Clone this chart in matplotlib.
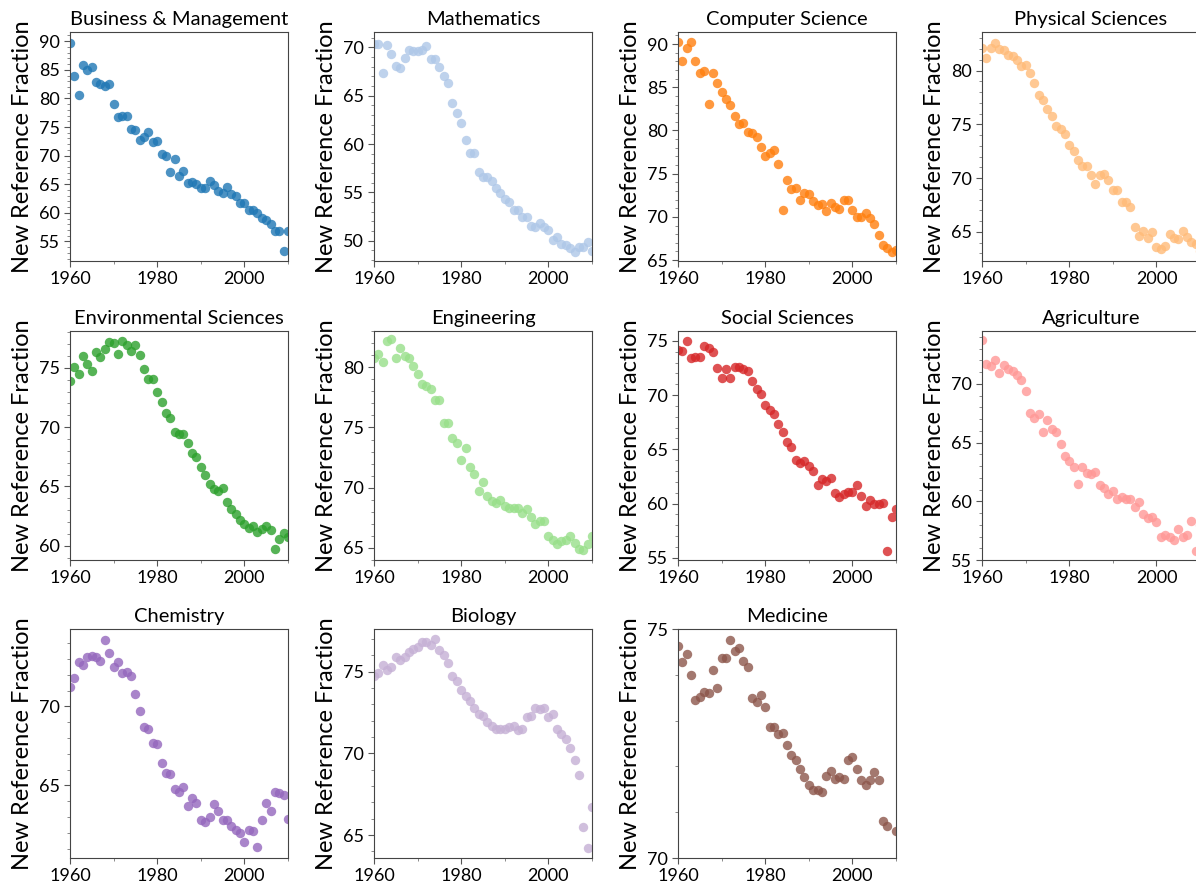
import numpy as np
import matplotlib
matplotlib.use("Agg")
import matplotlib.pyplot as plt
from matplotlib.ticker import MultipleLocator

plt.rcParams['font.family'] = ['Lato', 'DejaVu Sans']

years = list(range(1960, 2011))

fields = ['Business & Management', 'Mathematics', 'Computer Science', 'Physical Sciences',
          'Environmental Sciences', 'Engineering', 'Social Sciences', 'Agriculture',
          'Chemistry', 'Biology', 'Medicine']

colors = ['#1f77b4', '#aec7e8', '#ff7f0e', '#ffbb78', '#2ca02c', '#98df8a',
          '#d62728', '#ff9896', '#9467bd', '#c5b0d5', '#8c564b']

business = [89.6, 84.0, 80.6, 85.9, 85.0, 85.4, 82.9, 82.6, 82.1, 82.5,
            79.1, 76.8, 77.0, 76.9, 74.7, 74.4, 72.7, 73.2, 74.1, 72.4,
            72.6, 70.2, 70.0, 67.2, 69.4, 66.4, 67.3, 65.3, 65.4, 65.1,
            64.3, 64.4, 65.6, 64.8, 63.9, 63.5, 64.6, 63.3, 63.0, 61.8,
            61.8, 60.5, 60.5, 60.0, 59.1, 58.8, 58.1, 56.9, 56.9, 53.4,
            56.9]
mathematics = [70.4, 70.4, 67.4, 70.3, 69.3, 68.1, 67.9, 68.9, 69.7, 69.6,
               69.6, 69.7, 70.2, 68.8, 68.8, 68.0, 67.0, 66.3, 64.2, 63.2,
               62.2, 60.4, 59.1, 59.1, 57.1, 56.6, 56.6, 56.2, 55.5, 54.9,
               54.3, 54.0, 53.2, 53.2, 52.4, 52.5, 51.5, 51.4, 51.8, 51.4,
               51.1, 50.1, 50.4, 49.7, 49.5, 49.2, 48.8, 49.3, 49.3, 49.9,
               48.9]
computer_science = [90.2, 88.0, 89.5, 90.2, 88.0, 86.7, 86.9, 83.1, 86.7, 85.5,
                    84.5, 83.7, 83.0, 81.7, 80.7, 80.9, 79.8, 79.7, 79.2, 78.1,
                    77.0, 77.4, 77.7, 76.1, 70.8, 74.3, 73.2, 73.3, 72.0, 72.8,
                    72.6, 71.8, 71.4, 71.5, 70.7, 71.6, 71.2, 70.9, 72.0, 71.9,
                    70.8, 70.0, 70.0, 70.5, 69.9, 69.2, 67.9, 66.8, 66.4, 65.9,
                    66.2]
physical = [82.1, 81.2, 82.1, 82.6, 82.0, 81.9, 81.5, 81.4, 81.0, 80.4,
            80.5, 79.8, 78.9, 77.7, 77.3, 76.4, 75.8, 74.9, 74.6, 74.1,
            73.1, 72.5, 71.7, 71.1, 71.1, 70.3, 69.5, 70.3, 70.4, 69.8,
            68.9, 68.9, 67.8, 67.8, 67.3, 65.5, 64.6, 65.1, 64.4, 65.0,
            63.6, 63.4, 63.7, 64.8, 64.4, 64.3, 65.1, 64.5, 64.1, 63.9,
            63.2]
environmental = [73.9, 75.1, 74.5, 76.0, 75.3, 74.7, 76.3, 75.9, 76.6, 77.2,
                 77.1, 76.2, 77.3, 76.9, 76.4, 76.9, 76.1, 74.9, 74.1, 74.1,
                 73.0, 72.1, 71.2, 70.8, 69.6, 69.4, 69.4, 68.7, 67.8, 67.5,
                 66.6, 66.0, 65.2, 64.8, 64.6, 64.9, 63.7, 63.1, 62.7, 62.2,
                 61.8, 61.5, 61.7, 61.2, 61.4, 61.7, 61.3, 59.7, 60.6, 61.1,
                 60.7]
engineering = [80.8, 81.1, 80.4, 82.2, 82.3, 80.8, 81.6, 80.9, 80.8, 80.1,
               79.4, 78.6, 78.4, 78.2, 77.3, 77.3, 75.4, 75.4, 74.1, 73.7,
               72.3, 73.3, 71.7, 71.1, 69.7, 70.5, 69.3, 68.9, 68.7, 69.0,
               68.5, 68.3, 68.3, 68.3, 67.9, 68.2, 67.6, 67.0, 67.2, 67.2,
               66.0, 65.7, 65.3, 65.6, 65.7, 66.0, 65.4, 64.9, 64.8, 65.3,
               66.0]
social = [74.2, 74.1, 75.0, 73.4, 73.5, 73.5, 74.5, 74.3, 74.0, 72.5,
          71.6, 72.4, 71.6, 72.6, 72.6, 72.4, 72.2, 71.3, 70.6, 70.1,
          69.1, 68.6, 68.3, 67.3, 66.6, 65.7, 65.2, 64.0, 63.7, 63.9,
          63.5, 63.0, 61.7, 62.3, 62.1, 62.4, 61.0, 60.6, 60.9, 61.1,
          61.1, 61.7, 60.7, 59.8, 60.3, 60.0, 60.0, 60.1, 55.6, 58.8,
          59.5]
agriculture = [73.7, 71.7, 71.5, 72.0, 70.9, 71.6, 71.3, 71.1, 70.8, 70.3,
               69.4, 67.5, 67.1, 67.4, 65.9, 66.9, 66.2, 65.9, 64.9, 63.9,
               63.4, 62.9, 61.5, 62.9, 62.4, 62.3, 62.5, 61.4, 61.1, 60.6,
               60.9, 60.2, 60.4, 60.2, 60.2, 59.5, 59.9, 58.9, 58.6, 58.7,
               58.2, 57.0, 57.1, 57.0, 56.7, 57.6, 57.0, 57.1, 58.3, 55.8,
               58.0]
chemistry = [71.2, 71.8, 72.8, 72.6, 73.1, 73.2, 73.1, 72.9, 74.2, 73.4,
             72.5, 72.8, 72.1, 72.2, 71.9, 70.8, 69.7, 68.7, 68.6, 67.7,
             67.6, 66.4, 65.8, 65.7, 64.8, 64.6, 64.9, 63.7, 64.2, 63.9,
             62.8, 62.7, 63.0, 63.8, 63.4, 62.8, 62.8, 62.4, 62.2, 62.0,
             61.4, 62.2, 62.1, 61.1, 62.8, 63.9, 63.4, 64.6, 64.5, 64.4,
             62.9]
biology = [74.7, 74.9, 75.4, 75.1, 75.3, 75.9, 75.7, 75.9, 76.2, 76.4,
           76.5, 76.8, 76.8, 76.6, 77.0, 76.3, 76.0, 75.5, 74.7, 74.4,
           73.9, 73.5, 73.2, 72.8, 72.4, 72.3, 71.9, 71.7, 71.5, 71.5,
           71.5, 71.6, 71.7, 71.4, 71.5, 72.2, 72.3, 72.8, 72.7, 72.8,
           72.2, 72.4, 71.5, 71.2, 70.9, 70.3, 69.6, 68.7, 65.5, 64.2,
           66.7]
medicine = [74.62, 74.29, 74.46, 74.00, 73.46, 73.51, 73.62, 73.60, 74.10, 73.72,
            74.36, 74.37, 74.76, 74.52, 74.59, 74.30, 74.18, 73.49, 73.41, 73.57,
            73.30, 72.87, 72.87, 72.70, 72.72, 72.47, 72.25, 72.14, 71.94, 71.76,
            71.60, 71.48, 71.48, 71.44, 71.79, 71.90, 71.72, 71.78, 71.72, 72.13,
            72.21, 71.95, 71.70, 71.60, 71.70, 71.87, 71.71, 70.80, 70.70, np.nan,
            70.58]

series = [business, mathematics, computer_science, physical, environmental,
          engineering, social, agriculture, chemistry, biology, medicine]

ylims = [(51.6, 91.6), (47.9, 71.6), (64.9, 91.4), (62.3, 83.6),
         (58.8, 78.1), (64.0, 83.0), (54.8, 75.9), (55.0, 74.5),
         (60.4, 74.9), (63.6, 77.6), (70.0, 75.0)]

fig = plt.figure(figsize=(11.96, 8.84), dpi=100)

# axes laid out by hand: the last column runs past the right edge
lefts = [0.0585, 0.3127, 0.5669, 0.8211]
bottoms = [0.7048, 0.3665, 0.0294]
w, h = 0.1823, 0.259

for i, (name, vals) in enumerate(zip(fields, series)):
    row, col = divmod(i, 4)
    ax = fig.add_axes([lefts[col], bottoms[row], w, h])
    ax.scatter(years, vals, s=46, color=colors[i], alpha=0.8, linewidths=0)
    ax.set_xlim(1960, 2010)
    ax.set_ylim(*ylims[i])
    ax.xaxis.set_major_locator(MultipleLocator(20))
    ax.xaxis.set_minor_locator(MultipleLocator(10))
    ax.yaxis.set_major_locator(MultipleLocator(5))
    ax.yaxis.set_minor_locator(MultipleLocator(1))
    ax.tick_params(which='major', length=4, width=0.8, color='#555555', labelsize=13)
    ax.tick_params(which='minor', length=2, width=0.6, color='#777777')
    for sp in ax.spines.values():
        sp.set_color('#444444')
        sp.set_linewidth(0.8)
    ax.set_title(name, fontsize=14.5, pad=5)
    ax.set_ylabel('New Reference Fraction', fontsize=17)

fig.savefig('out.png', dpi=100)
